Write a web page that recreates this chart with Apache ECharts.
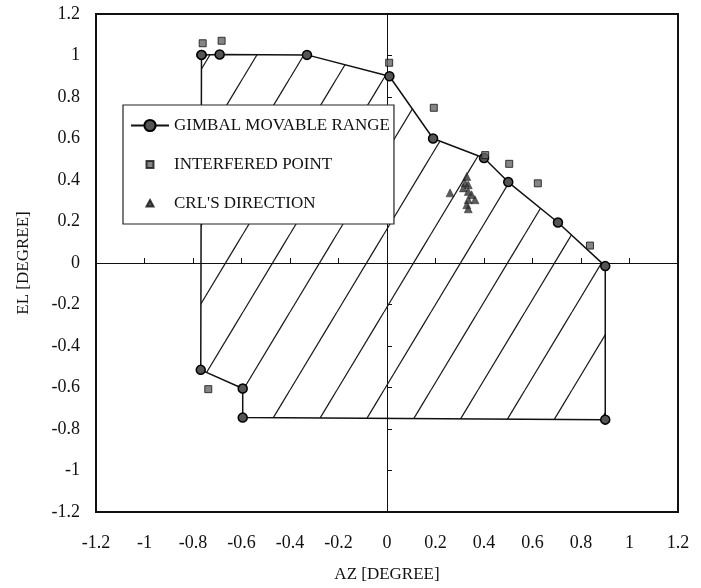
<!DOCTYPE html>
<html>
<head>
<meta charset="utf-8">
<script src="https://cdn.jsdelivr.net/npm/echarts@6/dist/echarts.min.js"></script>
<style>
html,body{margin:0;padding:0;background:#fff;}
#chart{width:701px;height:588px;}
</style>
</head>
<body>
<div id="chart"></div>
<script>
// Gimbal movable range (polygon vertices, closed)
const gimbalAZ = [-0.765, -0.69, -0.33, 0.01, 0.19, 0.40, 0.50, 0.705, 0.90, 0.90, -0.595, -0.595, -0.768, -0.765];
const gimbalEL = [1.003, 1.005, 1.003, 0.90, 0.60, 0.506, 0.39, 0.195, -0.015, -0.755, -0.745, -0.605, -0.515, 1.003];
// Interfered points
const interfAZ = [-0.76, -0.682, 0.009, 0.193, 0.405, 0.504, 0.622, 0.837, -0.737];
const interfEL = [1.059, 1.071, 0.965, 0.748, 0.52, 0.478, 0.384, 0.084, -0.608];
// CRL's direction
const crlAZ = [0.26, 0.329, 0.322, 0.335, 0.315, 0.335, 0.349, 0.363, 0.335, 0.329, 0.335];
const crlEL = [0.338, 0.417, 0.386, 0.377, 0.362, 0.345, 0.329, 0.305, 0.305, 0.281, 0.261];
// Axis settings
const axisMin = -1.2, axisMax = 1.2, axisStep = 0.2;
const seriesNames = ['GIMBAL MOVABLE RANGE', 'INTERFERED POINT', "CRL'S DIRECTION"];

const zip = (a, b) => a.map((v, i) => [v, b[i]]);

// diagonal hatch pattern
function makeHatch() {
  const w = 47, s = 1.66, h = Math.round(w * s);
  const cv = document.createElement('canvas');
  cv.width = w; cv.height = h;
  const ctx = cv.getContext('2d');
  ctx.strokeStyle = '#1a1a1a';
  ctx.lineWidth = 1.2;
  const off = 8;
  for (const c of [off - w, off, off + w, off + 2 * w]) {
    ctx.beginPath();
    ctx.moveTo(c, 0);
    ctx.lineTo(c - w, h);
    ctx.stroke();
  }
  return cv;
}
const hatch = { image: makeHatch(), repeat: 'repeat' };

const font = 'Liberation Serif';
const chart = echarts.init(document.getElementById('chart'), null, { renderer: 'canvas' });
chart.setOption({
  animation: false,
  backgroundColor: '#fff',
  textStyle: { fontFamily: font, color: '#111' },
  grid: { left: 96, right: 23, top: 14, bottom: 75, show: true, borderColor: '#111', borderWidth: 2, backgroundColor: 'transparent' },
  legend: {
    data: [
      { name: seriesNames[0] },
      { name: seriesNames[1], icon: 'path://M0,0M14,14M3.5,3.5h7v7h-7z' },
      { name: seriesNames[2], icon: 'path://M0,0M14,14M7,3.5L10.5,10H3.5Z' }
    ],
    orient: 'vertical',
    left: 123, top: 105,
    padding: [12, 4, 12, 7],
    itemGap: 22,
    itemWidth: 38, itemHeight: 14,
    backgroundColor: '#fff',
    borderColor: '#222', borderWidth: 1.2,
    textStyle: { fontFamily: font, fontSize: 17, color: '#111' },
    selectedMode: false
  },
  xAxis: [
    {
      type: 'value', min: axisMin, max: axisMax, interval: axisStep, position: 'bottom',
      axisLine: { show: false }, axisTick: { show: false }, splitLine: { show: false },
      axisLabel: { fontSize: 18, margin: 22, color: '#111', fontFamily: font },
      name: 'AZ [DEGREE]', nameLocation: 'middle', nameGap: 54,
      nameTextStyle: { fontSize: 17, color: '#111', fontFamily: font }
    },
    {
      type: 'value', min: axisMin, max: axisMax, interval: axisStep, position: 'bottom',
      axisLine: { show: true, onZero: true, lineStyle: { color: '#111', width: 1 } },
      axisTick: { show: true, inside: true, length: 5, lineStyle: { color: '#111' } },
      axisLabel: { show: false }, splitLine: { show: false }
    }
  ],
  yAxis: [
    {
      type: 'value', min: axisMin, max: axisMax, interval: axisStep, position: 'left',
      axisLine: { show: false }, axisTick: { show: false }, splitLine: { show: false },
      axisLabel: { fontSize: 18, margin: 16, color: '#111', fontFamily: font },
      name: 'EL [DEGREE]', nameLocation: 'middle', nameGap: 64, nameRotate: 90,
      nameTextStyle: { fontSize: 17, color: '#111', fontFamily: font }
    },
    {
      type: 'value', min: axisMin, max: axisMax, interval: axisStep, position: 'left',
      axisLine: { show: true, onZero: true, lineStyle: { color: '#111', width: 1 } },
      axisTick: { show: true, inside: true, length: 5, lineStyle: { color: '#111' } },
      axisLabel: { show: false }, splitLine: { show: false }
    }
  ],
  series: [
    {
      type: 'custom', silent: true, z: 1,
      xAxisIndex: 0, yAxisIndex: 0,
      data: [[0, 0]],
      renderItem: function (params, api) {
        const pts = gimbalAZ.map((x, i) => api.coord([x, gimbalEL[i]]));
        return { type: 'polygon', shape: { points: pts }, style: { fill: hatch, stroke: null } };
      }
    },
    {
      name: seriesNames[0], type: 'line', z: 3,
      xAxisIndex: 0, yAxisIndex: 0,
      data: zip(gimbalAZ, gimbalEL),
      symbol: 'circle', symbolSize: 9, showAllSymbol: true,
      lineStyle: { color: '#111', width: 1.5 },
      itemStyle: { color: '#555', borderColor: '#000', borderWidth: 1.5 }
    },
    {
      name: seriesNames[1], type: 'scatter', z: 4,
      xAxisIndex: 0, yAxisIndex: 0,
      data: zip(interfAZ, interfEL),
      symbol: 'rect', symbolSize: 7,
      itemStyle: { color: '#666', borderColor: '#111', borderWidth: 1 }
    },
    {
      name: seriesNames[2], type: 'scatter', z: 4,
      xAxisIndex: 0, yAxisIndex: 0,
      data: zip(crlAZ, crlEL),
      symbol: 'triangle', symbolSize: 8,
      itemStyle: { color: '#333', borderColor: '#111', borderWidth: 0.5 }
    }
  ]
});
</script>
</body>
</html>
